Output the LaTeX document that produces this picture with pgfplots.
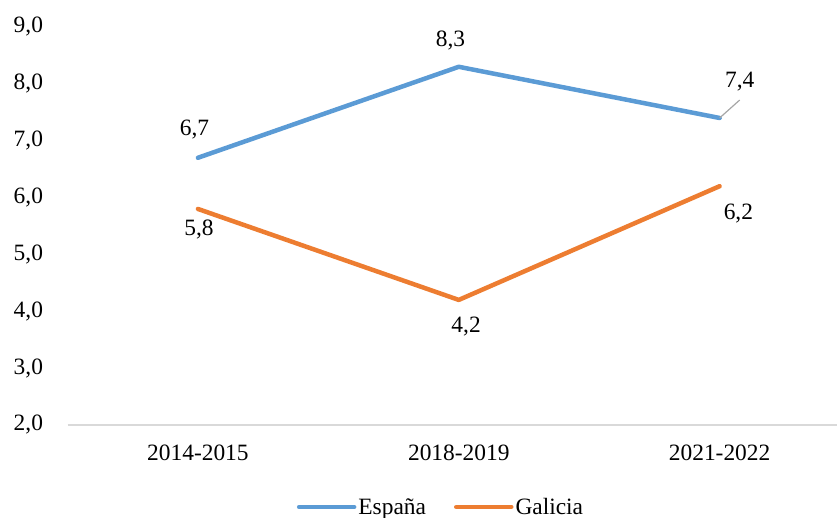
\documentclass[border=0pt]{standalone}
\usepackage{fontspec}
\setmainfont{Liberation Serif}
\usepackage{pgfplots}
\pgfplotsset{compat=1.18}
\definecolor{espana}{HTML}{5B9BD5}
\definecolor{galicia}{HTML}{ED7D31}
\definecolor{axisgray}{HTML}{D9D9D9}
\newcommand{\lbl}{\fontsize{23.5}{26}\selectfont}
\begin{document}
\begin{tikzpicture}
\useasboundingbox (-67.5bp,-93bp) rectangle (769.5bp,425bp);
\begin{axis}[
    scale only axis,
    width=769.5bp, height=398bp,
    xmin=-0.5, xmax=2.45,
    ymin=2, ymax=9,
    xtick={0,1,2},
    xticklabels={2014-2015,2018-2019,2021-2022},
    ytick={2,3,...,9},
    axis x line=bottom,
    axis y line=left,
    x axis line style={-, draw=axisgray, line width=1.5bp},
    y axis line style={draw=none},
    major tick length=0pt,
    tick label style={font=\lbl, text=black},
    yticklabel style={/pgf/number format/fixed, /pgf/number format/fixed zerofill,
        /pgf/number format/precision=1, /pgf/number format/use comma,
        /pgf/number format/assume math mode=true, xshift=-21bp},
    xticklabel style={yshift=-16bp},
    legend style={draw=none, at={(0.4854,-0.206)}, anchor=center,
        legend columns=2, font=\lbl, inner sep=0pt,
        /tikz/every odd column/.append style={column sep=0bp},
        /tikz/every even column/.append style={column sep=26bp}},
    legend image code/.code={\draw[#1, line cap=round] (0bp,0bp) -- (55bp,0bp);},
    clip=false,
]
\addplot[espana, line width=4.5bp, line cap=round, line join=round] coordinates {(0,6.7) (1,8.3) (2,7.4)};
\addlegendentry{España}
\addplot[galicia, line width=4.5bp, line cap=round, line join=round] coordinates {(0,5.8) (1,4.2) (2,6.2)};
\addlegendentry{Galicia}
\draw[gray!70, line width=1.2bp] (axis cs:2,7.4) -- (axis cs:2.077,7.716);
\begin{scope}[every node/.style={font=\lbl}]
\node at (axis cs:-0.013,7.188) {6,7};
\node at (axis cs:0.968,8.771) {8,3};
\node at (axis cs:2.077,8.033) {7,4};
\node at (axis cs:0.004,5.430) {5,8};
\node at (axis cs:1.028,3.724) {4,2};
\node at (axis cs:2.072,5.720) {6,2};
\end{scope}
\end{axis}
\end{tikzpicture}
\end{document}
